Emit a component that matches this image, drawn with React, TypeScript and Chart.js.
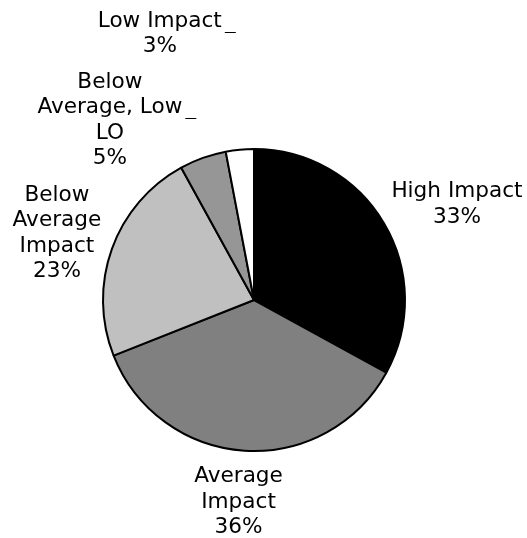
import React, { useEffect, useRef } from "react";
import { Chart, registerables } from "chart.js";

Chart.register(...registerables);

const categories = ["High Impact", "Average Impact", "Below Average Impact", "Below Average, Low LO", "Low Impact"];
const values = [33, 36, 23, 5, 3];
const labelLines = [
  ["High Impact", "33%"],
  ["Average", "Impact", "36%"],
  ["Below", "Average", "Impact", "23%"],
  ["Below", "Average, Low", "LO", "5%"],
  ["Low Impact", "3%"],
];
const colors = ["#000000", "#808080", "#c0c0c0", "#969696", "#ffffff"];
// label placement relative to the slice's outer mid point (style only)
const labelOffsets = [[73, -20], [-6, 50], [-55, -17], [-93, -39], [-80, -117]];
// index of the line that gets a leader stub (-1 = none)
const leaderLine = [-1, -1, -1, 1, 0];

const FONT = "21.6px 'DejaVu Sans', Verdana, sans-serif";
const LINE_H = 25.5;

const labelPlugin = {
  id: "sliceLabels",
  afterDatasetsDraw(chart: any) {
    const ctx = chart.ctx;
    const meta = chart.getDatasetMeta(0);
    ctx.save();
    ctx.font = FONT;
    ctx.fillStyle = "#000";
    ctx.textAlign = "center";
    ctx.textBaseline = "alphabetic";
    meta.data.forEach((arc: any, i: number) => {
      const p = arc.getProps(["x", "y", "startAngle", "endAngle", "outerRadius"], true);
      const mid = (p.startAngle + p.endAngle) / 2;
      const mx = p.x + Math.cos(mid) * p.outerRadius;
      const my = p.y + Math.sin(mid) * p.outerRadius;
      const cx = mx + labelOffsets[i][0];
      const cy = my + labelOffsets[i][1];
      const lines = labelLines[i];
      const n = lines.length;
      const firstBaseline = cy - ((n - 1) * LINE_H) / 2 + 7;
      lines.forEach((t, j) => {
        const by = firstBaseline + j * LINE_H;
        ctx.fillText(t, cx, by);
        if (leaderLine[i] === j) {
          const w = ctx.measureText(t).width;
          const x0 = cx + w / 2 + 3;
          ctx.beginPath();
          ctx.strokeStyle = "#000";
          ctx.lineWidth = 1;
          ctx.moveTo(x0, Math.round(by + 5) + 0.5);
          ctx.lineTo(x0 + 11, Math.round(by + 5) + 0.5);
          ctx.stroke();
        }
      });
    });
    ctx.restore();
  },
};

export default function App() {
  const ref = useRef<HTMLCanvasElement>(null);
  useEffect(() => {
    document.body.style.margin = "0";
    const chart = new Chart(ref.current as HTMLCanvasElement, {
      type: "pie",
      data: {
        labels: categories,
        datasets: [
          {
            data: values,
            backgroundColor: colors,
            borderColor: "#000",
            borderWidth: 2,
          },
        ],
      },
      options: {
        animation: false,
        responsive: false,
        layout: { padding: { left: 102, right: 121, top: 148, bottom: 86 } },
        plugins: { legend: { display: false }, tooltip: { enabled: false } },
      },
      plugins: [labelPlugin],
    });
    return () => chart.destroy();
  }, []);
  return (
    <div style={{ width: 527, height: 538, background: "#fff" }}>
      <canvas ref={ref} width={527} height={538} style={{ display: "block" }} />
    </div>
  );
}
